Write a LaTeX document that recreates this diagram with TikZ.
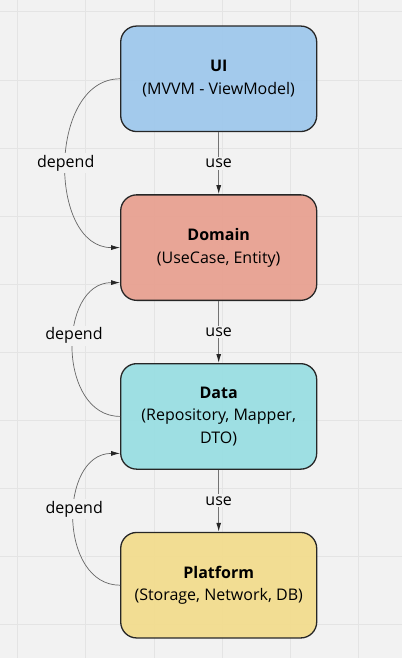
\documentclass[tikz,border=0pt]{standalone}
\usepackage{fontspec}
\setmainfont{Open Sans}
\usetikzlibrary{positioning,arrows.meta}
\definecolor{uiblue}{RGB}{157,199,236}
\definecolor{domainred}{RGB}{232,160,144}
\definecolor{datacyan}{RGB}{152,222,226}
\definecolor{platformyellow}{RGB}{243,220,140}
\definecolor{boardgray}{RGB}{242,242,242}
\definecolor{gridgray}{RGB}{228,228,228}
\tikzset{
  layer/.style={draw=black!85, line width=1.3pt, rounded corners=16pt,
    minimum width=196pt, minimum height=105.5pt, align=center,
    font=\fontsize{16}{22.5}\selectfont, fill opacity=0.93, text opacity=1},
  use/.style={draw=black!55, line width=1pt, -{Latex[length=9pt,width=5pt,color=black!85]}},
  depend/.style={draw=black!60, line width=0.7pt, -{Latex[length=9pt,width=5pt,color=black!85]}},
  lbl/.style={fill=boardgray, font=\fontsize{16}{19}\selectfont, inner sep=2pt}
}
\begin{document}
\begin{tikzpicture}[x=1pt,y=-1pt,node distance=62pt]
  \useasboundingbox (0,0) rectangle (402,658);
  \fill[boardgray] (0,0) rectangle (402,658);
  % board grid
  \foreach \i in {0,...,5} {
    \draw[gridgray,line width=1pt] (17.7+68.2*\i,0) -- ++(0,658);
  }
  \foreach \j in {0,...,9} {
    \draw[gridgray,line width=1pt] (0,12+68.1*\j) -- ++(402,0);
  }
  % layers
  \node[layer,fill=uiblue] (ui) at (218.7,78.8) {\textbf{UI}\\(MVVM - ViewModel)};
  \node[layer,fill=domainred,below=of ui] (domain) {\textbf{Domain}\\(UseCase, Entity)};
  \node[layer,fill=datacyan,below=of domain] (data) {\textbf{Data}\\(Repository, Mapper,\\DTO)};
  \node[layer,fill=platformyellow,below=of data] (platform) {\textbf{Platform}\\(Storage, Network, DB)};
  % use
  \draw[use] (ui) -- node[lbl] {use} (domain);
  \draw[use] (domain) -- node[lbl] {use} (data);
  \draw[use] (data) -- node[lbl] {use} (platform);
  % depend
  \draw[depend] (ui.west) to[out=180,in=180,looseness=1.1] node[lbl] {depend} (domain.west);
  \draw[depend] (data.west) to[out=180,in=180,looseness=1.2] node[lbl,pos=0.57] {depend} ([yshift=-35pt]domain.west);
  \draw[depend] (platform.west) to[out=180,in=180,looseness=1.2] node[lbl,pos=0.55] {depend} ([yshift=-37pt]data.west);
\end{tikzpicture}
\end{document}
